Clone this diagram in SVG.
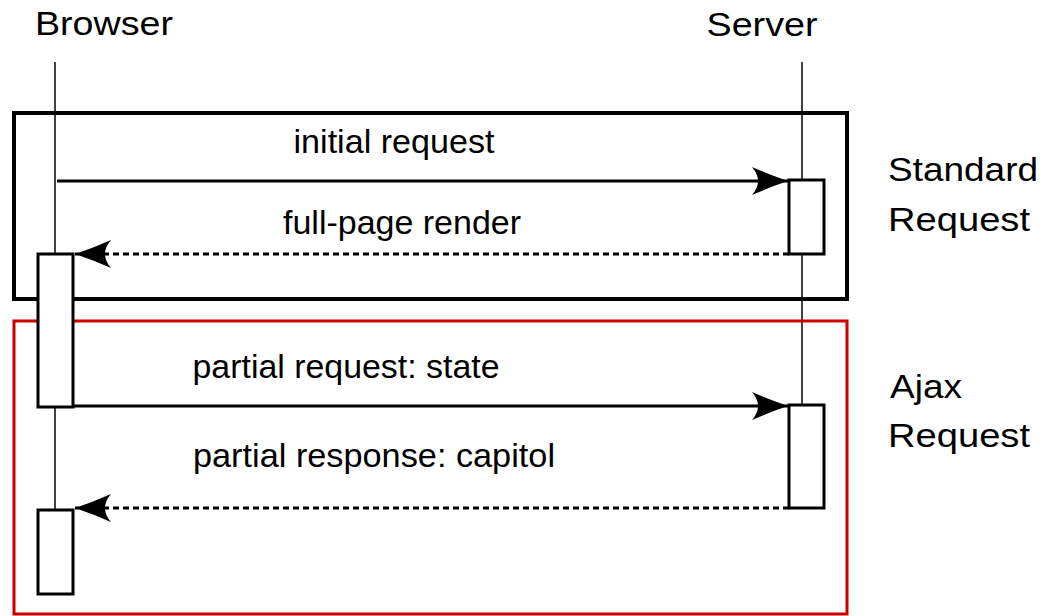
<svg xmlns="http://www.w3.org/2000/svg" width="1054" height="616" viewBox="0 0 1054 616">
<style>
text{font-family:"Liberation Sans",Arial,sans-serif;font-size:33.5px;fill:#000}
.life{stroke:#000;stroke-width:1.5;fill:none}
.frame{fill:none;stroke:#000;stroke-width:4}
.red{fill:none;stroke:#cc0000;stroke-width:3}
.act{fill:#fff;stroke:#000;stroke-width:3}
.msg{stroke:#000;stroke-width:3;fill:none}
.dash{stroke-dasharray:6 4}
</style>
<defs>
<marker id="ah" markerUnits="userSpaceOnUse" viewBox="-37 -15 38 30" refX="0" refY="0" markerWidth="38" markerHeight="30" orient="auto" overflow="visible">
<path d="M0,0 Q-18,-6 -36,-14 Q-24,0 -36,14 Q-18,6 0,0 Z" fill="#000"/>
</marker>
</defs>
<g id="browser">
<text x="104" y="35" text-anchor="middle" textLength="138" lengthAdjust="spacingAndGlyphs">Browser</text>
<line class="life" x1="55" y1="62" x2="55" y2="510"/>
</g>
<g id="server">
<text x="762" y="36" text-anchor="middle" textLength="111" lengthAdjust="spacingAndGlyphs">Server</text>
<line class="life" x1="802" y1="62" x2="802" y2="405"/>
</g>
<g id="standard-frame">
<rect class="frame" x="14" y="113" width="833" height="186"/>
<text x="888" y="181" textLength="150" lengthAdjust="spacingAndGlyphs">Standard</text>
<text x="888" y="231" textLength="142" lengthAdjust="spacingAndGlyphs">Request</text>
</g>
<g id="ajax-frame">
<rect class="red" x="14" y="321" width="833" height="293"/>
<text x="890" y="398" textLength="72" lengthAdjust="spacingAndGlyphs">Ajax</text>
<text x="888" y="447" textLength="142" lengthAdjust="spacingAndGlyphs">Request</text>
</g>
<g id="server-act1"><rect class="act" x="789" y="180" width="35" height="74" stroke-width="2.5"/></g>
<g id="browser-act1"><rect class="act" x="38" y="254" width="35" height="153"/></g>
<g id="server-act2"><rect class="act" x="789" y="405" width="35" height="103"/></g>
<g id="browser-act2"><rect class="act" x="38" y="510" width="35" height="84"/></g>
<g id="connectors">
<line class="msg" x1="57" y1="181" x2="788" y2="181" marker-end="url(#ah)"/>
<text x="394" y="153" text-anchor="middle" textLength="201" lengthAdjust="spacingAndGlyphs">initial request</text>
<line class="msg dash" x1="789" y1="254" x2="75" y2="254" marker-end="url(#ah)"/>
<text x="402" y="234" text-anchor="middle" textLength="238" lengthAdjust="spacingAndGlyphs">full-page render</text>
<line class="msg" x1="73" y1="406" x2="788" y2="406" marker-end="url(#ah)"/>
<text x="346" y="378" text-anchor="middle" textLength="307" lengthAdjust="spacingAndGlyphs">partial request: state</text>
<line class="msg dash" x1="789" y1="508" x2="75" y2="508" marker-end="url(#ah)"/>
<text x="374" y="467" text-anchor="middle" textLength="362" lengthAdjust="spacingAndGlyphs">partial response: capitol</text>
</g>
</svg>
